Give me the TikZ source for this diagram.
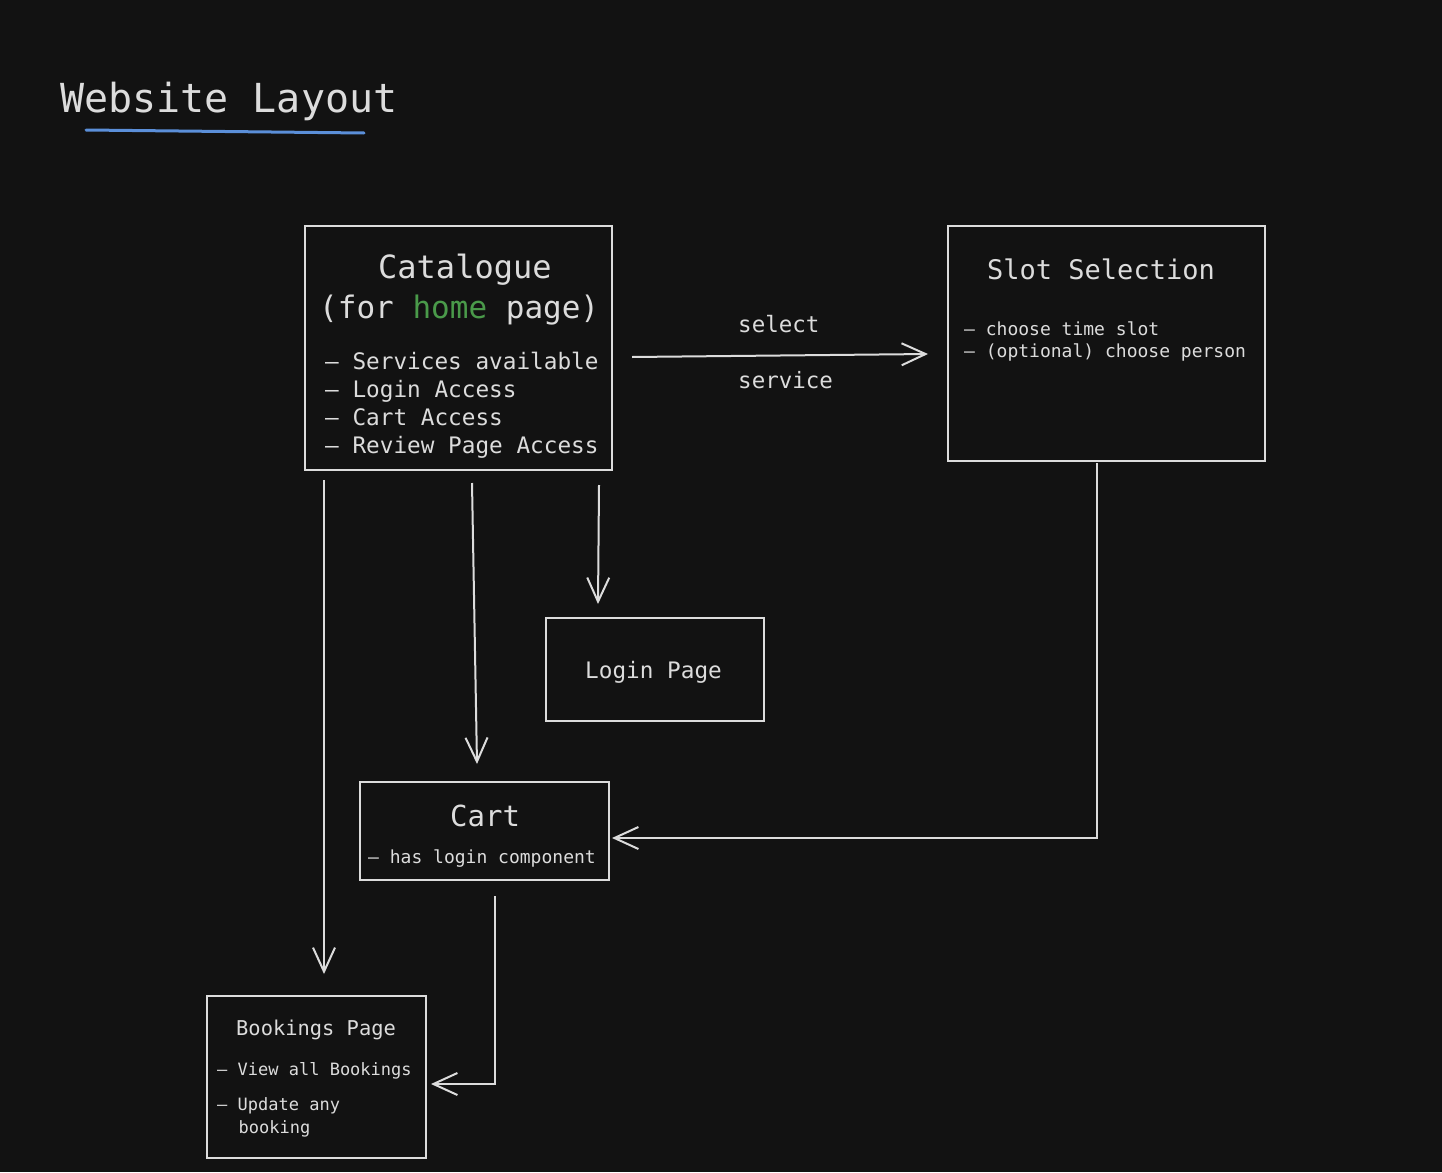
\documentclass[tikz,border=0pt]{standalone}
\usepackage{fontspec}
\setmonofont{DejaVu Sans Mono}
\usetikzlibrary{arrows.meta,calc}
\definecolor{bg}{HTML}{121212}
\definecolor{fg}{HTML}{DCDCDC}
\definecolor{hgreen}{HTML}{4A9A4A}
\definecolor{ublue}{HTML}{5B8FD9}
\newcommand{\fs}[1]{\fontsize{#1}{#1}\selectfont}
\tikzset{
  txt/.style={anchor=base west, inner sep=0pt, text=fg, font=\ttfamily},
  box/.style={draw=fg, line width=2pt, fill=bg, inner sep=0pt},
  conn/.style={draw=fg, line width=2pt, -{Straight Barb[length=24pt,width=22pt]}},
}
\begin{document}
\begin{tikzpicture}[x=1pt,y=-1pt]
\fill[bg] (0,0) rectangle (1442,1172);
\useasboundingbox (0,0) rectangle (1442,1172);

% title
\node[txt] (title) at (60,112) {\fs{40}Website Layout};
\coordinate (ul1) at (86,130);
\coordinate (ul2) at (364,133);
\draw[ublue, line width=3pt, line cap=round] (ul1) -- (ul2);

% boxes
\node[box, minimum width=307pt, minimum height=244pt] (cat) at (458.5,348) {};
\node[box, minimum width=317pt, minimum height=235pt] (slot) at (1106.5,343.5) {};
\node[box, minimum width=218pt, minimum height=103pt] (login) at (655,669.5) {};
\node[box, minimum width=249pt, minimum height=98pt] (cart) at (484.5,831) {};
\node[box, minimum width=219pt, minimum height=162pt] (book) at (316.5,1077) {};

% catalogue text
\node[txt] (catT) at (378,278) {\fs{32}Catalogue};
\node[txt] (catT2) at (319,318) {\fs{31}(for \textcolor{hgreen}{home} page)};
\node[txt] (catL1) at (325,369) {\fs{22.7}– Services available};
\node[txt] (catL2) at (325,397) {\fs{22.7}– Login Access};
\node[txt] (catL3) at (325,425) {\fs{22.7}– Cart Access};
\node[txt] (catL4) at (325,453) {\fs{22.7}– Review Page Access};

% slot text
\node[txt] (slotT) at (987,279) {\fs{27}Slot Selection};
\node[txt] (slotL1) at (964,335) {\fs{18}– choose time slot};
\node[txt] (slotL2) at (964,357) {\fs{18}– (optional) choose person};

% login text
\node[txt] (loginT) at (585,678) {\fs{22.7}Login Page};

% cart text
\node[txt] (cartT) at (450,826) {\fs{29}Cart};
\node[txt] (cartL) at (368,863) {\fs{18}– has login component};

% bookings text
\node[txt] (bookT) at (236,1035) {\fs{20.4}Bookings Page};
\node[txt] (bookL1) at (217,1075) {\fs{17}– View all Bookings};
\node[txt] (bookL2) at (217,1110) {\fs{17}– Update any};
\node[txt] (bookL3) at (238.5,1133) {\fs{17}booking};

% edge labels
\node[txt] (lsel) at (738,332) {\fs{22.5}select};
\node[txt] (lser) at (738,388) {\fs{22.5}service};

% connectors
\draw[conn] ($(cat.east)+(19,9)$) -- ($(slot.west)+(-19,10.5)$);
\draw[conn] ($(cat.south west)+(20,9)$) -- ($(book.north west)+(118,-21)$);
\draw[conn] ($(cat.south)+(13.5,12)$) -- ($(cart.north)+(-7.5,-17)$);
\draw[conn] ($(cat.south east)+(-14,14)$) -- ($(login.north west)+(53,-13)$);
\draw[conn] ($(slot.south)+(-9.5,1)$) |- ($(cart.east)+(2,7)$);
\draw[conn] ($(cart.south)+(10.5,15)$) |- ($(book.east)+(4,7)$);
\end{tikzpicture}
\end{document}
